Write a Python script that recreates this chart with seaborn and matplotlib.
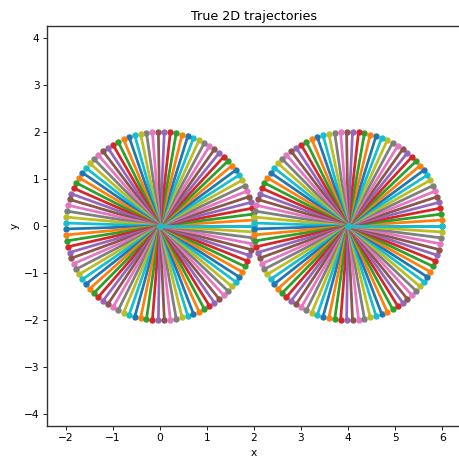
import numpy as np
import pandas as pd
import matplotlib
matplotlib.use('Agg')
import matplotlib.pyplot as plt
import seaborn as sns

# trajectory setup: rays from each centre out to a circle
centers_x = [0.0, 4.0]
centers_y = [0.0, 0.0]
radius = 2.0
n_rays = 100
angles = np.linspace(0, 2 * np.pi, n_rays)

tab10 = sns.color_palette('tab10', 10)

fig = plt.figure(figsize=(6, 6), dpi=76.5)
ax = fig.add_axes([47 / 459, 1 - 426 / 459, 414 / 459, 400 / 459])

# each trajectory is start point -> end point, colours cycle through tab10
k = 0
for cx, cy in zip(centers_x, centers_y):
    for a in angles:
        seg = pd.DataFrame({'x': [cx, cx + radius * np.cos(a)],
                            'y': [cy, cy + radius * np.sin(a)]})
        sns.lineplot(data=seg, x='x', y='y', sort=False, estimator=None,
                     color=tab10[k % 10], marker='o', markersize=6,
                     markeredgewidth=0, linewidth=2.6, ax=ax)
        k += 1

ax.set_aspect('equal', adjustable='datalim')
for side in ['top', 'right', 'left', 'bottom']:
    ax.spines[side].set_visible(True)
    ax.spines[side].set_linewidth(1.3)
    ax.spines[side].set_color('#333333')
ax.set_title('True 2D trajectories')
ax.set_xlabel('x')
ax.set_ylabel('y')

fig.savefig('out.png', dpi=76.5)
